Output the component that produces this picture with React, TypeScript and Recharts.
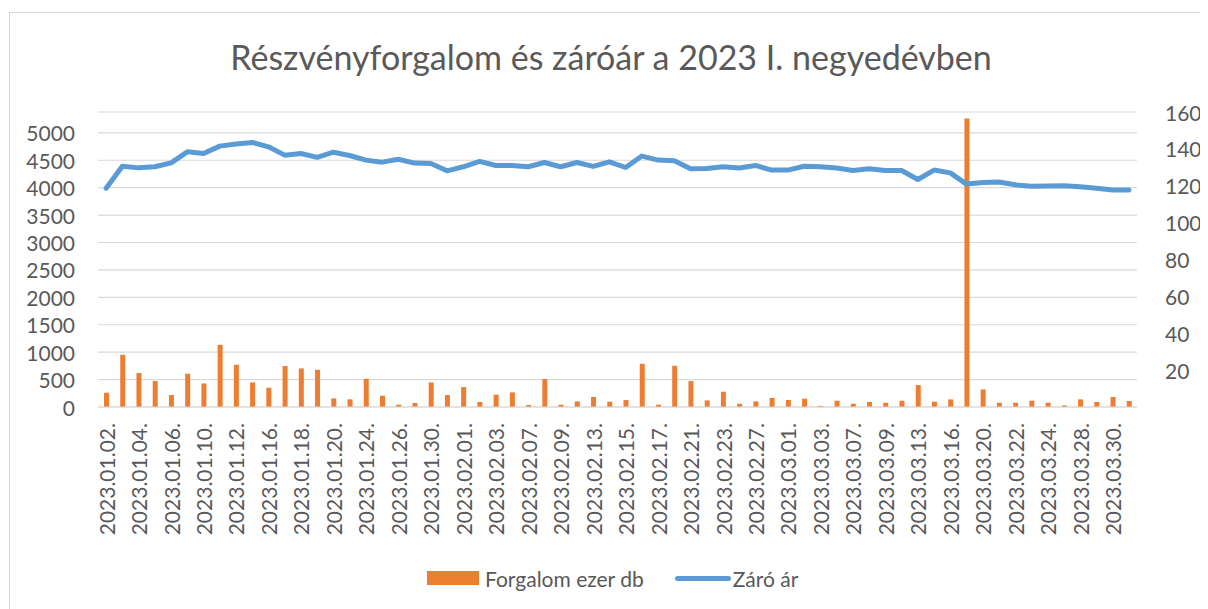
import React from "react";
import {
  ComposedChart,
  Bar,
  Line,
  XAxis,
  YAxis,
  CartesianGrid,
  Legend,
} from "recharts";

const dates: string[] = [
  "2023.01.02.", "2023.01.03.", "2023.01.04.", "2023.01.05.", "2023.01.06.",
  "2023.01.09.", "2023.01.10.", "2023.01.11.", "2023.01.12.", "2023.01.13.",
  "2023.01.16.", "2023.01.17.", "2023.01.18.", "2023.01.19.", "2023.01.20.",
  "2023.01.23.", "2023.01.24.", "2023.01.25.", "2023.01.26.", "2023.01.27.",
  "2023.01.30.", "2023.01.31.",
  "2023.02.01.", "2023.02.02.", "2023.02.03.", "2023.02.06.", "2023.02.07.",
  "2023.02.08.", "2023.02.09.", "2023.02.10.", "2023.02.13.", "2023.02.14.",
  "2023.02.15.", "2023.02.16.", "2023.02.17.", "2023.02.20.", "2023.02.21.",
  "2023.02.22.", "2023.02.23.", "2023.02.24.", "2023.02.27.", "2023.02.28.",
  "2023.03.01.", "2023.03.02.", "2023.03.03.", "2023.03.06.", "2023.03.07.",
  "2023.03.08.", "2023.03.09.", "2023.03.10.", "2023.03.13.", "2023.03.14.",
  "2023.03.16.", "2023.03.17.", "2023.03.20.", "2023.03.21.", "2023.03.22.",
  "2023.03.23.", "2023.03.24.", "2023.03.27.", "2023.03.28.", "2023.03.29.",
  "2023.03.30.", "2023.03.31.",
];

const forgalom: number[] = [
  260, 952, 619, 473, 218, 606, 430, 1134, 770, 448,
  351, 746, 703, 679, 157, 139, 515, 206, 42, 73,
  448, 218, 364, 91, 224, 266, 36, 510, 42, 102,
  182, 97, 127, 788, 42, 752, 473, 120, 279, 60,
  102, 164, 127, 151, 20, 115, 60, 91, 78, 115,
  400, 97, 139, 5262, 320, 78, 78, 115, 78, 29,
  139, 91, 182, 109,
];

const zaroAr: number[] = [
  118.6, 130.6, 129.7, 130.3, 132.4, 138.4, 137.5, 141.5, 142.6, 143.5,
  141.1, 136.6, 137.5, 135.4, 138.2, 136.4, 133.9, 132.8, 134.4, 132.3,
  132.1, 128.1, 130.3, 133.2, 131.0, 131.0, 130.3, 132.6, 130.3, 132.6,
  130.5, 133.0, 129.9, 136.1, 133.9, 133.5, 129.2, 129.4, 130.3, 129.6,
  131.0, 128.5, 128.5, 130.6, 130.3, 129.6, 128.3, 129.2, 128.3, 128.3,
  123.4, 128.5, 127.0, 120.9, 121.8, 122.0, 120.5, 119.7, 119.8, 120.0,
  119.4, 118.6, 117.7, 117.7,
];

const leftTicks: number[] = [0, 500, 1000, 1500, 2000, 2500, 3000, 3500, 4000, 4500, 5000];
const rightTicks: number[] = [20, 40, 60, 80, 100, 120, 140, 160];

const TITLE = "Részvényforgalom és záróár a 2023 I. negyedévben";
const BAR_NAME = "Forgalom ezer db";
const LINE_NAME = "Záró ár";

const data = dates.map((d, i) => ({ date: d, forgalom: forgalom[i], zaro: zaroAr[i] }));

const FONT = "Lato, 'Open Sans', sans-serif";
const TEXT = "#595959";
const ORANGE = "#ED7D31";
const BLUE = "#5B9BD5";
const GRID = "#D9D9D9";

const CHART_W = 1199;
const LEFT_W = 89;
const RIGHT_W = 71;

const XTick = (props: any) => {
  const { x, y, payload } = props;
  const ty = y + 16;
  return (
    <text
      x={x}
      y={ty}
      transform={`rotate(-90 ${x} ${ty})`}
      textAnchor="end"
      dominantBaseline="central"
      fill={TEXT}
      fontSize={21}
      fontFamily={FONT}
    >
      {payload.value}
    </text>
  );
};

const LeftTick = (props: any) => {
  const { y, payload } = props;
  return (
    <text
      x={LEFT_W - 23}
      y={y}
      textAnchor="end"
      dominantBaseline="central"
      fill={TEXT}
      fontSize={21}
      fontFamily={FONT}
    >
      {payload.value}
    </text>
  );
};

const RightTick = (props: any) => {
  const { y, payload } = props;
  return (
    <text
      x={CHART_W - RIGHT_W + 28}
      y={y}
      textAnchor="start"
      dominantBaseline="central"
      fill={TEXT}
      fontSize={21}
      fontFamily={FONT}
    >
      {payload.value}
    </text>
  );
};

const LegendContent = () => (
  <div
    style={{
      height: 30,
      display: "flex",
      alignItems: "center",
      paddingLeft: 418,
      fontFamily: FONT,
      fontSize: 21,
      color: TEXT,
      whiteSpace: "nowrap",
    }}
  >
    <span style={{ display: "inline-block", width: 52, height: 14, background: ORANGE, marginRight: 6 }} />
    <span>{BAR_NAME}</span>
    <span
      style={{
        display: "inline-block",
        width: 56,
        height: 5,
        borderRadius: 2.5,
        background: BLUE,
        marginLeft: 31,
        marginRight: 2,
      }}
    />
    <span>{LINE_NAME}</span>
  </div>
);

export default function App() {
  return (
    <div style={{ position: "relative", width: 1200, height: 601, overflow: "hidden", background: "#fff" }}>
      <div
        style={{
          position: "absolute",
          left: 1,
          top: 4,
          width: 1260,
          height: 700,
          border: `1px solid ${GRID}`,
        }}
      />
      <div
        style={{
          position: "absolute",
          left: 8,
          top: 27,
          width: 1190,
          textAlign: "center",
          fontFamily: FONT,
          fontSize: 34,
          color: TEXT,
          lineHeight: "44px",
          whiteSpace: "nowrap",
        }}
      >
        {TITLE}
      </div>
      <div style={{ position: "absolute", left: 1, top: 1 }}>
        <ComposedChart
          width={CHART_W}
          height={591}
          data={data}
          margin={{ top: 103, right: 0, bottom: 7, left: 0 }}
        >
          <CartesianGrid yAxisId="left" vertical={false} stroke={GRID} strokeWidth={1.2} />
          <XAxis
            dataKey="date"
            interval={1}
            tick={<XTick />}
            tickLine={false}
            tickSize={0}
            tickMargin={0}
            height={156}
            axisLine={{ stroke: GRID }}
          />
          <YAxis
            yAxisId="left"
            orientation="left"
            domain={[0, 5380]}
            ticks={leftTicks}
            interval={0}
            width={LEFT_W}
            axisLine={false}
            tickLine={false}
            tick={<LeftTick />}
            allowDataOverflow
          />
          <YAxis
            yAxisId="right"
            orientation="right"
            domain={[0, 160]}
            ticks={rightTicks}
            interval={0}
            width={RIGHT_W}
            axisLine={false}
            tickLine={false}
            tick={<RightTick />}
          />
          <Legend verticalAlign="bottom" content={<LegendContent />} />
          <Bar
            yAxisId="left"
            dataKey="forgalom"
            name={BAR_NAME}
            fill={ORANGE}
            barSize={5}
            isAnimationActive={false}
          />
          <Line
            yAxisId="right"
            dataKey="zaro"
            name={LINE_NAME}
            stroke={BLUE}
            strokeWidth={5}
            strokeLinecap="round"
            strokeLinejoin="round"
            dot={false}
            activeDot={false}
            type="linear"
            isAnimationActive={false}
          />
        </ComposedChart>
      </div>
    </div>
  );
}
